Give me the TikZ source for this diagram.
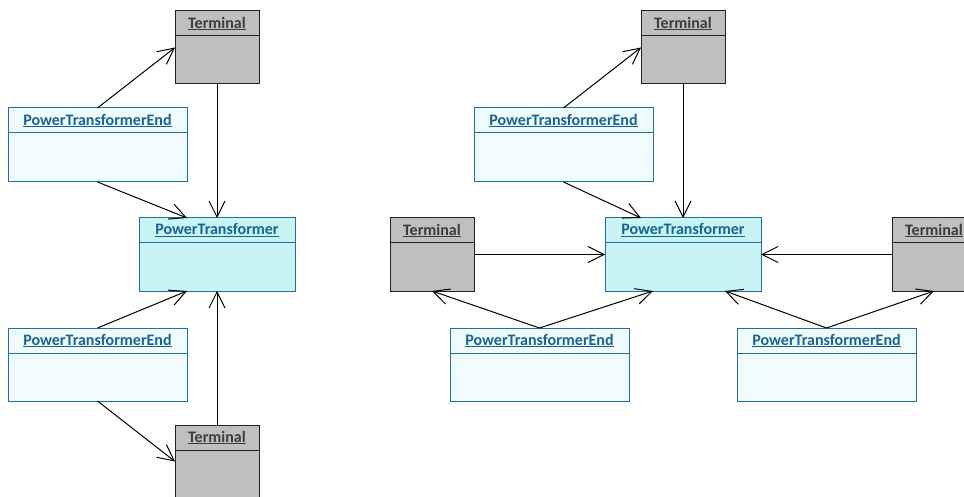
\documentclass[tikz,border=0pt]{standalone}
\usepackage{fontspec}
\setmainfont{Carlito}
\usetikzlibrary{arrows.meta,calc}
\definecolor{ptefill}{RGB}{240,251,251}
\definecolor{ptfill}{RGB}{200,244,244}
\definecolor{bluedge}{RGB}{30,112,160}
\definecolor{bluetext}{RGB}{22,100,150}
\definecolor{termfill}{RGB}{191,191,191}
\definecolor{termedge}{RGB}{35,35,35}
\definecolor{termtext}{RGB}{60,60,60}
\tikzset{
  pte/.style={draw=bluedge, fill=ptefill, line width=1pt, inner sep=0pt, outer sep=0pt},
  pt/.style={draw=bluedge, fill=ptfill, line width=1pt, inner sep=0pt, outer sep=0pt},
  term/.style={draw=termedge, fill=termfill, line width=1pt, inner sep=0pt, outer sep=0pt},
  pte text/.style={text=bluetext, font=\fontsize{16}{19}\selectfont\bfseries, inner sep=0pt},
  pt text/.style={text=bluetext, font=\fontsize{16}{19}\selectfont\bfseries, inner sep=0pt},
  term text/.style={text=termtext, font=\fontsize{16}{19}\selectfont\bfseries, inner sep=0pt},
  pte line/.style={draw=bluedge, line width=1pt},
  pt line/.style={draw=bluedge, line width=1pt},
  term line/.style={draw=termedge, line width=1pt},
  assoc/.style={draw=black, line width=1pt, -{Straight Barb[length=16pt,width=16pt]}},
}
\newcommand\umlclass[7]{%
  \node[#2, minimum width={#5-#3}, minimum height={#6-#4}, anchor=north west] (#1) at (#3,#4) {};
  \node[#2 text] (#1-t) at ($(#1.north)+(0,12.5)$) {\underline{#7}};
  \draw[#2 line] ($(#1.north west)+(0,25)$) -- ($(#1.north east)+(0,25)$);
}
\begin{document}
\begin{tikzpicture}[x=1pt,y=-1pt]
\useasboundingbox (0,0) rectangle (964,497);
\clip (0,0) rectangle (964,497);
% left diagram
\umlclass{t1}{term}{175}{11}{259}{84}{Terminal}
\umlclass{e1}{pte}{8}{108}{187}{182}{PowerTransformerEnd}
\umlclass{p1}{pt}{139}{218}{295}{291}{PowerTransformer}
\umlclass{e2}{pte}{8}{328}{187}{401}{PowerTransformerEnd}
\umlclass{t2}{term}{175}{425}{259}{498}{Terminal}
\draw[assoc] (e1.north) -- (t1.west);
\draw[assoc] (t1.south) -- (p1.north);
\draw[assoc] (e1.south) -- ($(p1.north west)+(48,0)$);
\draw[assoc] (e2.north) -- ($(p1.south west)+(48,0)$);
\draw[assoc] (t2.north) -- (p1.south);
\draw[assoc] (e2.south) -- (t2.west);
% right diagram
\umlclass{rt}{term}{641}{11}{725}{84}{Terminal}
\umlclass{re}{pte}{474}{108}{653}{182}{PowerTransformerEnd}
\umlclass{rp}{pt}{605}{218}{761}{291}{PowerTransformer}
\umlclass{lt}{term}{390}{218}{474}{291}{Terminal}
\umlclass{rrt}{term}{892}{218}{976}{291}{Terminal}
\umlclass{pl}{pte}{450}{328}{629}{401}{PowerTransformerEnd}
\umlclass{pr}{pte}{737}{328}{916}{401}{PowerTransformerEnd}
\draw[assoc] (re.north) -- (rt.west);
\draw[assoc] (rt.south) -- (rp.north);
\draw[assoc] (re.south) -- ($(rp.north west)+(36,0)$);
\draw[assoc] (lt.east) -- (rp.west);
\draw[assoc] (rrt.west) -- (rp.east);
\draw[assoc] (pl.north) -- (lt.south);
\draw[assoc] (pl.north) -- ($(rp.south west)+(48,0)$);
\draw[assoc] (pr.north) -- ($(rp.south east)+(-36,0)$);
\draw[assoc] (pr.north) -- (rrt.south);
\end{tikzpicture}
\end{document}
